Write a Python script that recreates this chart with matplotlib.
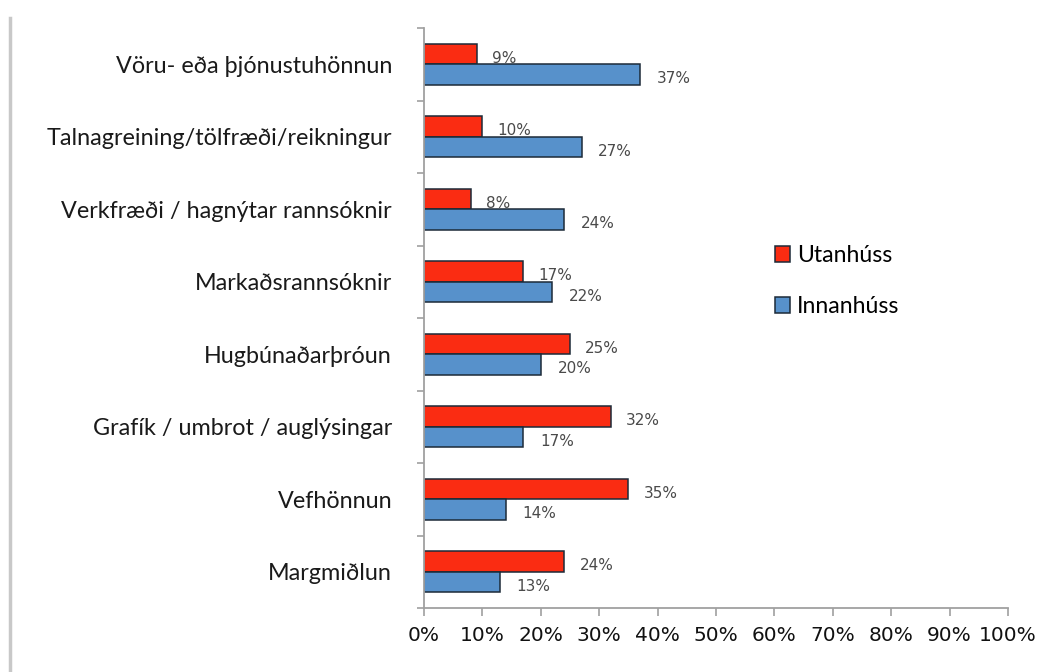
import numpy as np
import matplotlib
matplotlib.use("Agg")
import matplotlib.pyplot as plt
from matplotlib.patches import Patch
from matplotlib.lines import Line2D

# data (top to bottom)
categories = ["Vöru- eða þjónustuhönnun", "Talnagreining/tölfræði/reikningur",
              "Verkfræði / hagnýtar rannsóknir", "Markaðsrannsóknir",
              "Hugbúnaðarþróun", "Grafík / umbrot / auglýsingar",
              "Vefhönnun", "Margmiðlun"]
utanhuss = [9, 10, 8, 17, 25, 32, 35, 24]
innanhuss = [37, 27, 24, 22, 20, 17, 14, 13]
series_names = ["Utanhúss", "Innanhúss"]
xticks = [0, 10, 20, 30, 40, 50, 60, 70, 80, 90, 100]

red = "#fa2c12"
blue = "#5791cb"
edge = "#1c2a38"
axcol = "#a0a0a0"
cat_font = "Lato"

fig = plt.figure(figsize=(10.41, 6.72), dpi=100)
ax = fig.add_axes([424/1041, 1-608/672, 584/1041, 580/672])

pos = np.arange(len(categories))
h = 0.283
ax.barh(pos - h/2, utanhuss, height=h, color=red, edgecolor=edge, linewidth=1.1)
ax.barh(pos + h/2, innanhuss, height=h, color=blue, edgecolor=edge, linewidth=1.1)

for p, v in zip(pos, utanhuss):
    ax.annotate(f"{v}%", (v, p - h/2), xytext=(11, -3), textcoords="offset points",
                ha="left", va="center", fontsize=11, color="#4a4a4a")
for p, v in zip(pos, innanhuss):
    ax.annotate(f"{v}%", (v, p + h/2), xytext=(12, -3), textcoords="offset points",
                ha="left", va="center", fontsize=11, color="#4a4a4a")

ax.set_xlim(0, 100)
ax.set_ylim(len(categories) - 0.5, -0.5)

ax.set_xticks(xticks)
ax.set_xticklabels([f"{t}%" for t in xticks], fontsize=14.5, color="#111111")
ax.tick_params(axis="x", direction="out", length=6, width=1.2, color=axcol, pad=7)

# category boundary ticks + labels at centres
ax.set_yticks(np.arange(len(categories) + 1) - 0.5)
ax.set_yticklabels([])
ax.tick_params(axis="y", which="major", direction="out", length=5, width=1.2, color=axcol)
ax.set_yticks(pos, minor=True)
ax.set_yticklabels(categories, minor=True, fontsize=16.8, family=cat_font, color="#1a1a1a")
ax.tick_params(axis="y", which="minor", length=0, pad=23)

for s in ["top", "right"]:
    ax.spines[s].set_visible(False)
for s in ["left", "bottom"]:
    ax.spines[s].set_color(axcol)
    ax.spines[s].set_linewidth(1.3)

handles = [Patch(facecolor=red, edgecolor=edge, linewidth=1.1),
           Patch(facecolor=blue, edgecolor=edge, linewidth=1.1)]
fig.legend(handles, series_names, loc="center left", bbox_to_anchor=(754/1041, 1-281/672),
           frameon=False, handlelength=0.65, handleheight=0.65, handletextpad=0.3,
           labelspacing=1.3, prop={"family": cat_font, "size": 16.6})

# gray border on the left
fig.add_artist(Line2D([10/1041, 10/1041], [0, 1-18/672], color="#c8c8c8", linewidth=2.5))

plt.savefig("out.png", dpi=100)
